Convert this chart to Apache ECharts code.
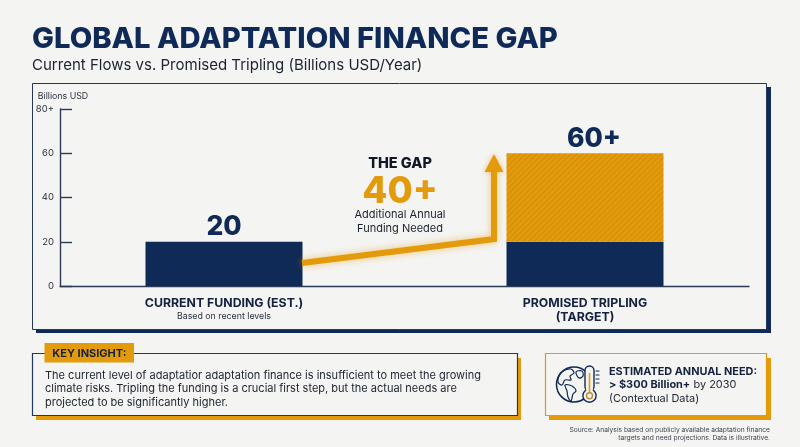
<!DOCTYPE html>
<html>
<head>
<meta charset="utf-8">
<style>html,body{margin:0;padding:0;background:#f4f4f2}#c{width:800px;height:447px}</style>
<script src="https://cdn.jsdelivr.net/npm/echarts@6/dist/echarts.min.js"></script>
</head>
<body>
<div id="c"></div>
<script>
const categories = ['CURRENT FUNDING (EST.)', 'PROMISED TRIPLING'];
const categoryNotes = ['Based on recent levels', '(TARGET)'];
const currentFunding = [20, 20];
const gapFunding = [null, 40];
const barLabels = ['20', '60+'];
const yTickLabels = {0: '0', 20: '20', 40: '40', 60: '60', 80: '80+'};

const NAVY = '#0f2a56', ORANGE = '#e39b0c', BG = '#f4f4f2', INK = '#1b2230';
const FONT = 'Inter';
const txt = (x, y, text, size, weight, fill, align) => ({
  type: 'text', x, y,
  style: {text, font: `${weight} ${size}px ${FONT}`, fill: fill || INK, textAlign: align || 'left', textVerticalAlign: 'middle'}
});
const box = (x, y, w, h, fill, stroke, lw) => ({
  type: 'rect', shape: {x, y, width: w, height: h},
  style: {fill, stroke: stroke || 'none', lineWidth: lw || 0}
});
const line = (pts, lw, col) => ({
  type: 'polyline', shape: {points: pts},
  style: {stroke: col || NAVY, lineWidth: lw || 1.4, fill: 'none', lineCap: 'round', lineJoin: 'round'}
});
const blob = (pts) => ({
  type: 'polygon', shape: {points: pts, smooth: 0.35},
  style: {stroke: NAVY, lineWidth: 1.2, fill: 'none'}
});

const chart = echarts.init(document.getElementById('c'), null, {renderer: 'canvas'});
chart.setOption({
  animation: false,
  backgroundColor: BG,
  title: [{
    text: 'GLOBAL ADAPTATION FINANCE GAP', left: 27, top: 19.5,
    textStyle: {fontFamily: FONT, fontSize: 29.2, fontWeight: 800, color: NAVY}
  }, {
    text: 'Current Flows vs. Promised Tripling (Billions USD/Year)', left: 27, top: 53,
    textStyle: {fontFamily: FONT, fontSize: 15.03, fontWeight: 400, color: INK}
  }],
  grid: [
    {left: 60, right: 51, top: 109, bottom: 161},
    {left: 43.5, right: 34.5, top: 109, bottom: 161}
  ],
  xAxis: [{
    gridIndex: 0, type: 'category', data: [''],
    axisLine: {lineStyle: {color: '#2b3b57', width: 1.4}},
    axisTick: {show: false}, axisLabel: {show: false}
  }, {
    gridIndex: 1, type: 'category',
    data: categories.map((c, i) => c + '\n' + categoryNotes[i]),
    axisLine: {show: false}, axisTick: {show: false},
    axisLabel: {
      margin: 10, interval: 0,
      formatter: (v, i) => {
        const [a, b] = v.split('\n');
        return i === 0 ? `{a|${a}}\n{b|${b}}` : `{a|${a}}\n{a|${b}}`;
      },
      rich: {
        a: {fontFamily: FONT, fontSize: 12.3, fontWeight: 700, color: '#14223f', lineHeight: 14, align: 'center'},
        b: {fontFamily: FONT, fontSize: 8.8, fontWeight: 400, color: '#2c3340', lineHeight: 13, align: 'center'}
      }
    }
  }],
  yAxis: [{
    gridIndex: 0, type: 'value', min: 0, max: 80, interval: 20,
    name: 'Billions USD', nameLocation: 'end', nameGap: 7,
    nameTextStyle: {fontFamily: FONT, fontSize: 8.8, color: '#2c3340', padding: [0, 0, 0, 6], align: 'center', lineHeight: 12},
    axisLine: {show: true, lineStyle: {color: '#2b3b57', width: 1.4}},
    axisTick: {show: true, inside: true, length: 12, lineStyle: {color: '#2b3b57', width: 1.4}},
    splitLine: {show: false},
    axisLabel: {
      margin: 6, fontFamily: FONT, fontSize: 9.5, color: '#2c3340', padding: [2, 0, 0, 0],
      formatter: v => yTickLabels[v]
    }
  }, {
    gridIndex: 1, type: 'value', min: 0, max: 80, interval: 20, show: false
  }],
  series: [{
    type: 'bar', name: 'Current funding', xAxisIndex: 1, yAxisIndex: 1, stack: 'f',
    data: currentFunding, barWidth: 157,
    itemStyle: {color: NAVY},
    label: {
      show: true, position: 'top', distance: 1.5,
      formatter: p => p.dataIndex === 0 ? barLabels[0] : '',
      fontFamily: FONT, fontSize: 26.5, fontWeight: 800, color: NAVY
    }
  }, {
    type: 'bar', name: 'Gap', xAxisIndex: 1, yAxisIndex: 1, stack: 'f',
    data: gapFunding, barWidth: 157,
    itemStyle: {
      color: ORANGE,
      decal: {symbol: 'rect', dashArrayX: [1, 0], dashArrayY: [1, 3], rotation: -Math.PI / 4, color: 'rgba(150,90,0,0.25)'}
    },
    label: {
      show: true, position: 'top', distance: 0.5, offset: [9, 0],
      formatter: () => barLabels[1],
      fontFamily: FONT, fontSize: 26.5, fontWeight: 800, color: NAVY
    }
  }],
  graphic: {elements: [
    // chart panel
    box(36, 87, 735, 246, NAVY),
    box(32.5, 83.5, 734, 246, BG, '#23375a', 1),
    // arrow
    {
      type: 'polyline', z: 50,
      shape: {points: [[302, 263], [494, 239], [494, 168]]},
      style: {stroke: ORANGE, lineWidth: 6, fill: 'none', lineJoin: 'miter', shadowBlur: 7, shadowColor: 'rgba(227,155,12,0.55)'}
    },
    {
      type: 'polygon', z: 51,
      shape: {points: [[494, 154], [503.5, 172], [484.5, 172]]},
      style: {fill: ORANGE, shadowBlur: 5, shadowColor: 'rgba(227,155,12,0.5)'}
    },
    // gap callout
    txt(400, 163.5, 'THE GAP', 14.5, 800, '#111827', 'center'),
    txt(400, 192, '40+', 36.5, 800, ORANGE, 'center'),
    txt(400, 215, 'Additional Annual', 11, 400, INK, 'center'),
    txt(400, 228.5, 'Funding Needed', 11, 400, INK, 'center'),
    // key insight
    box(36, 358, 485, 62, ORANGE),
    box(32.5, 353.5, 485, 62, BG, '#23375a', 1.2),
    box(44.5, 343, 89.5, 19.5, ORANGE),
    txt(52.3, 354, 'KEY INSIGHT:', 11, 700, '#14223f'),
    txt(45, 375.5, 'The current level of adaptatior adaptation finance is insufficient to meet the growing', 11, 400, INK),
    txt(45, 389, 'climate risks. Tripling the funding is a crucial first step, but the actual needs are', 11, 400, INK),
    txt(45, 402.5, 'projected to be significantly higher.', 11, 400, INK),
    // need box
    box(549, 358, 222, 62, ORANGE),
    box(545.5, 353.5, 221, 62, BG, ORANGE, 1.2),
    // icon: globe
    {type: 'circle', shape: {cx: 574, cy: 384.5, r: 17.5}, style: {stroke: NAVY, lineWidth: 1.5, fill: 'none'}},
    blob([[563, 371], [571, 369], [574, 373], [570, 376], [571, 380], [565, 380], [562, 385], [558, 382], [559, 376]]),
    blob([[565, 385], [572, 386], [576, 391], [573, 394], [571, 401], [568, 397], [567, 391]]),
    blob([[576, 372], [582, 371], [583, 376], [579, 378]]),
    // icon: thermometer
    {type: 'rect', shape: {x: 585, y: 366, width: 9, height: 25, r: 4.5}, style: {fill: BG, stroke: NAVY, lineWidth: 1.4}},
    {type: 'circle', shape: {cx: 589.5, cy: 395.7, r: 6.6}, style: {fill: BG, stroke: NAVY, lineWidth: 1.4}},
    {type: 'rect', shape: {x: 586.2, y: 387, width: 6.6, height: 6}, style: {fill: BG}},
    {type: 'line', shape: {x1: 589.5, y1: 373, x2: 589.5, y2: 392}, style: {stroke: ORANGE, lineWidth: 1.6}},
    {type: 'circle', shape: {cx: 589.5, cy: 395.7, r: 3}, style: {fill: 'none', stroke: '#b78a2c', lineWidth: 1.4}},
    line([[596, 371], [599, 371]], 1.2), line([[596, 375], [599, 375]], 1.2),
    line([[596, 379], [599, 379]], 1.2), line([[596, 383], [599, 383]], 1.2),
    // need text
    txt(609, 371.5, 'ESTIMATED ANNUAL NEED:', 10.9, 700, '#14223f'),
    {type: 'text', x: 609, y: 385, style: {
      text: '{b|> $300 Billion+} {r|by 2030}', textVerticalAlign: 'middle',
      rich: {
        b: {font: `700 10.9px ${FONT}`, fill: '#14223f'},
        r: {font: `400 10.9px ${FONT}`, fill: INK}
      }
    }},
    txt(609, 399, '(Contextual Data)', 10.9, 400, INK),
    // source
    txt(770, 429.5, 'Source: Analysis based on publicly available adaptation finance', 6.7, 400, '#3a3f4a', 'right'),
    txt(770, 437.5, 'targets and need projections. Data is illustrative.', 6.7, 400, '#3a3f4a', 'right')
  ]}
});
</script>
</body>
</html>
